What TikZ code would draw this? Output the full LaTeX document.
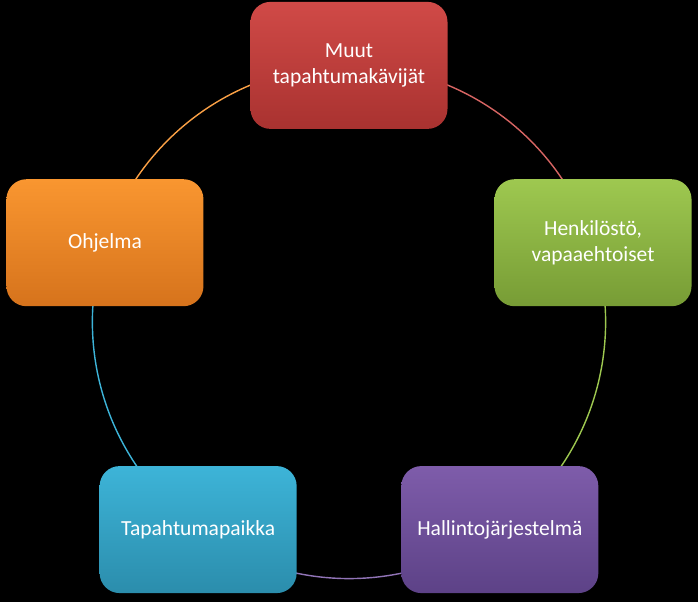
\documentclass[tikz,border=0pt]{standalone}
\usepackage{fontspec}
\setmainfont{Carlito}
\usetikzlibrary{backgrounds}
\definecolor{redtop}{HTML}{D04A47}
\definecolor{redbot}{HTML}{A93230}
\definecolor{greentop}{HTML}{9EC850}
\definecolor{greenbot}{HTML}{779C35}
\definecolor{purptop}{HTML}{7E5CAA}
\definecolor{purpbot}{HTML}{5D4287}
\definecolor{cyantop}{HTML}{3DB4D8}
\definecolor{cyanbot}{HTML}{2B8DAC}
\definecolor{orangetop}{HTML}{F99630}
\definecolor{orangebot}{HTML}{D6731C}
\begin{document}
\begin{tikzpicture}[
box/.style={rounded corners=0.5cm, minimum width=4.925cm, minimum height=3.175cm, text width=4.6cm, align=center, inner sep=0pt, text=white, font=\fontsize{15.3}{18}\selectfont},
ring/.style={line width=1pt}
]
\useasboundingbox (0,0) rectangle (17.45,15.05);
\node[box, top color=redtop, bottom color=redbot] (muut) at (8.725,13.415) {Muut\\tapahtumakävijät};
\node[box, top color=greentop, bottom color=greenbot] (henk) at (14.826,8.982) {Henkilöstö,\\vapaaehtoiset};
\node[box, top color=purptop, bottom color=purpbot] (hall) at (12.496,1.810) {Hallintojärjestelmä};
\node[box, top color=cyantop, bottom color=cyanbot] (paikka) at (4.954,1.810) {Tapahtumapaikka};
\node[box, top color=orangetop, bottom color=orangebot] (ohj) at (2.624,8.982) {Ohjelma};
\begin{scope}[on background layer]
\fill[black] (0,0) rectangle (17.45,15.05);
\draw[ring, color=redtop!85!white] (muut.center) arc[start angle=90, end angle=18, radius=6.415];
\draw[ring, color=greentop] (henk.center) arc[start angle=18, end angle=-54, radius=6.415];
\draw[ring, color=purptop!85!white] (hall.center) arc[start angle=-54, end angle=-126, radius=6.415];
\draw[ring, color=cyantop] (paikka.center) arc[start angle=-126, end angle=-198, radius=6.415];
\draw[ring, color=orangetop!90!white] (ohj.center) arc[start angle=162, end angle=90, radius=6.415];
\end{scope}
\end{tikzpicture}
\end{document}
